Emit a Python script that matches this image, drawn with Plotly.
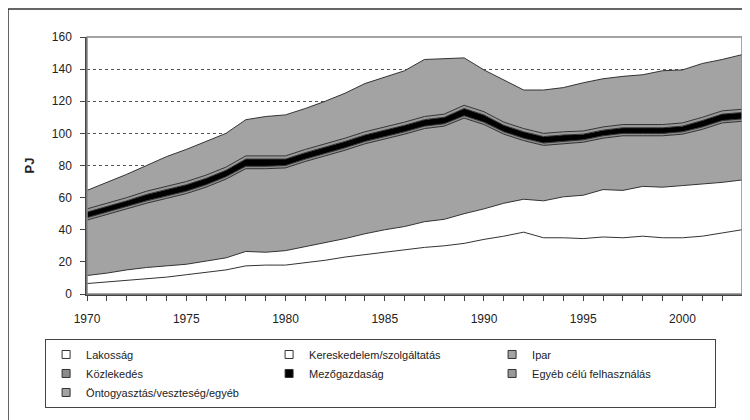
import plotly.graph_objects as go

years = list(range(1970, 2004))

# PJ, egyes kategóriák (halmozott terület)
lakossag = [6.5, 7.5, 8.5, 9.5, 10.5, 12, 13.5, 15, 17.5, 18, 18, 19.5, 21, 23, 24.5, 26, 27.5,
            29, 30, 31.5, 34, 36, 38.5, 35, 35, 34.5, 35.5, 35, 36, 35, 35, 36, 38, 40]
kereskedelem = [5, 5.5, 6.5, 7, 7, 6.5, 7, 7.5, 9, 8, 9, 10, 11, 11.5, 13, 14, 14.5,
                16, 16.5, 18.5, 19, 20.5, 20.5, 23, 25.5, 27, 29.5, 29.5, 31, 31.5, 32.5, 32.5, 31.5, 31]
ipar = [34.5, 36.5, 38, 40, 42, 44, 46, 49, 51.5, 52, 51.5, 53, 54, 55, 56, 56.5, 57.5,
        58, 58, 59.5, 52.5, 43, 36.5, 34.5, 33, 33, 32, 34, 31.5, 32, 32, 34, 37, 36.5]
kozlekedes = [1.5, 1.5, 1.5, 1.5, 1.5, 1.5, 1.5, 1.5, 1.5, 1.5, 1.5, 1.5, 1.5, 1.5, 1.5, 1.5, 1.5,
              1.5, 1.5, 1.5, 1.5, 1.5, 1.5, 1.5, 1.5, 1.5, 1.5, 1.5, 1.5, 1.5, 1.5, 1.5, 1.5, 1.5]
mezogazdasag = [3.5, 3.5, 3.5, 4, 4, 4, 4, 4, 4.5, 4.5, 4, 4, 4, 4, 4, 4, 4,
                4, 4, 4.5, 4.5, 4, 4, 4, 4, 3.5, 3.5, 3.5, 3.5, 3.5, 3.5, 4, 4, 4]
egyeb = [2, 2, 2, 2, 2, 2, 2, 2, 2, 2, 2, 2, 2, 2, 2, 2, 2,
         2, 2, 2, 2, 2, 2, 2, 2, 2, 2, 2, 2, 2, 2, 2, 2, 2]
ontogyasztas = [11.5, 13, 14.5, 16, 18.5, 20, 21, 21, 22.5, 24.5, 25.5, 25.5, 26.5, 28, 30, 31, 32,
                35.5, 34.5, 29.5, 26, 26, 24, 27, 27.5, 30, 30, 30, 31, 33.5, 33, 33.5, 32, 34]

series = [
    ("Lakosság", lakossag, "#ffffff"),
    ("Kereskedelem/szolgáltatás", kereskedelem, "#ffffff"),
    ("Ipar", ipar, "#a3a3a3"),
    ("Közlekedés", kozlekedes, "#8c8c8c"),
    ("Mezőgazdaság", mezogazdasag, "#000000"),
    ("Egyéb célú felhasználás", egyeb, "#999999"),
    ("Öntogyasztás/veszteség/egyéb", ontogyasztas, "#a3a3a3"),
]

fig = go.Figure()
for name, vals, color in series:
    fig.add_trace(go.Scatter(
        x=years, y=vals, name=name, stackgroup="one", mode="lines",
        line=dict(color="#333333", width=1), fillcolor=color,
        showlegend=False, hoverinfo="x+y+name",
    ))
# jelmagyarázat: kis négyzetek
for name, vals, color in series:
    fig.add_trace(go.Scatter(
        x=[None], y=[None], name=name, mode="markers",
        marker=dict(symbol="square", size=8, color=color,
                    line=dict(color="#333333", width=1)),
    ))

# az oldal 8px-es body margóját is beleszámolva
fig.update_layout(
    width=750, height=420,
    margin=dict(l=79, r=16, t=29, b=134),
    paper_bgcolor="white", plot_bgcolor="white",
    font=dict(family="Liberation Sans, Arial, sans-serif", size=12, color="#222222"),
    legend=dict(
        orientation="h", traceorder="normal",
        x=-0.064, xanchor="left", y=-0.175, yanchor="top",
        entrywidth=178, entrywidthmode="pixels", itemwidth=30,
        font=dict(size=11), bordercolor="#444444", borderwidth=1,
        tracegroupgap=0,
    ),
    showlegend=True,
)
fig.update_xaxes(
    range=[1970, 2003], tickvals=list(range(1970, 2001, 5)),
    ticks="outside", ticklen=5, tickcolor="#444444", ticklabelstandoff=8,
    minor=dict(ticks="outside", dtick=1, ticklen=5, tickcolor="#444444"),
    showline=True, linecolor="#444444", linewidth=1.5, showgrid=False,
    zeroline=False,
)
fig.update_yaxes(
    range=[0, 160], dtick=20, ticks="outside", ticklen=5, tickcolor="#444444",
    ticklabelstandoff=6,
    showline=True, linecolor="#444444", linewidth=1.5,
    showgrid=True, gridcolor="#555555", griddash="dot", gridwidth=1,
    zeroline=False,
    title=dict(text="<b>PJ</b>", font=dict(size=13), standoff=14),
)
# plot area keret (felső és jobb oldal)
fig.add_shape(type="rect", xref="paper", yref="paper", x0=0, x1=1, y0=0, y1=1,
              line=dict(color="#888888", width=1.5), layer="above")
# külső keret
fig.add_shape(type="rect", xref="paper", yref="paper",
              x0=-0.1206, x1=1.03, y0=-0.52, y1=1.109,
              line=dict(color="#333333", width=1.5))

fig.write_html("out.html")
